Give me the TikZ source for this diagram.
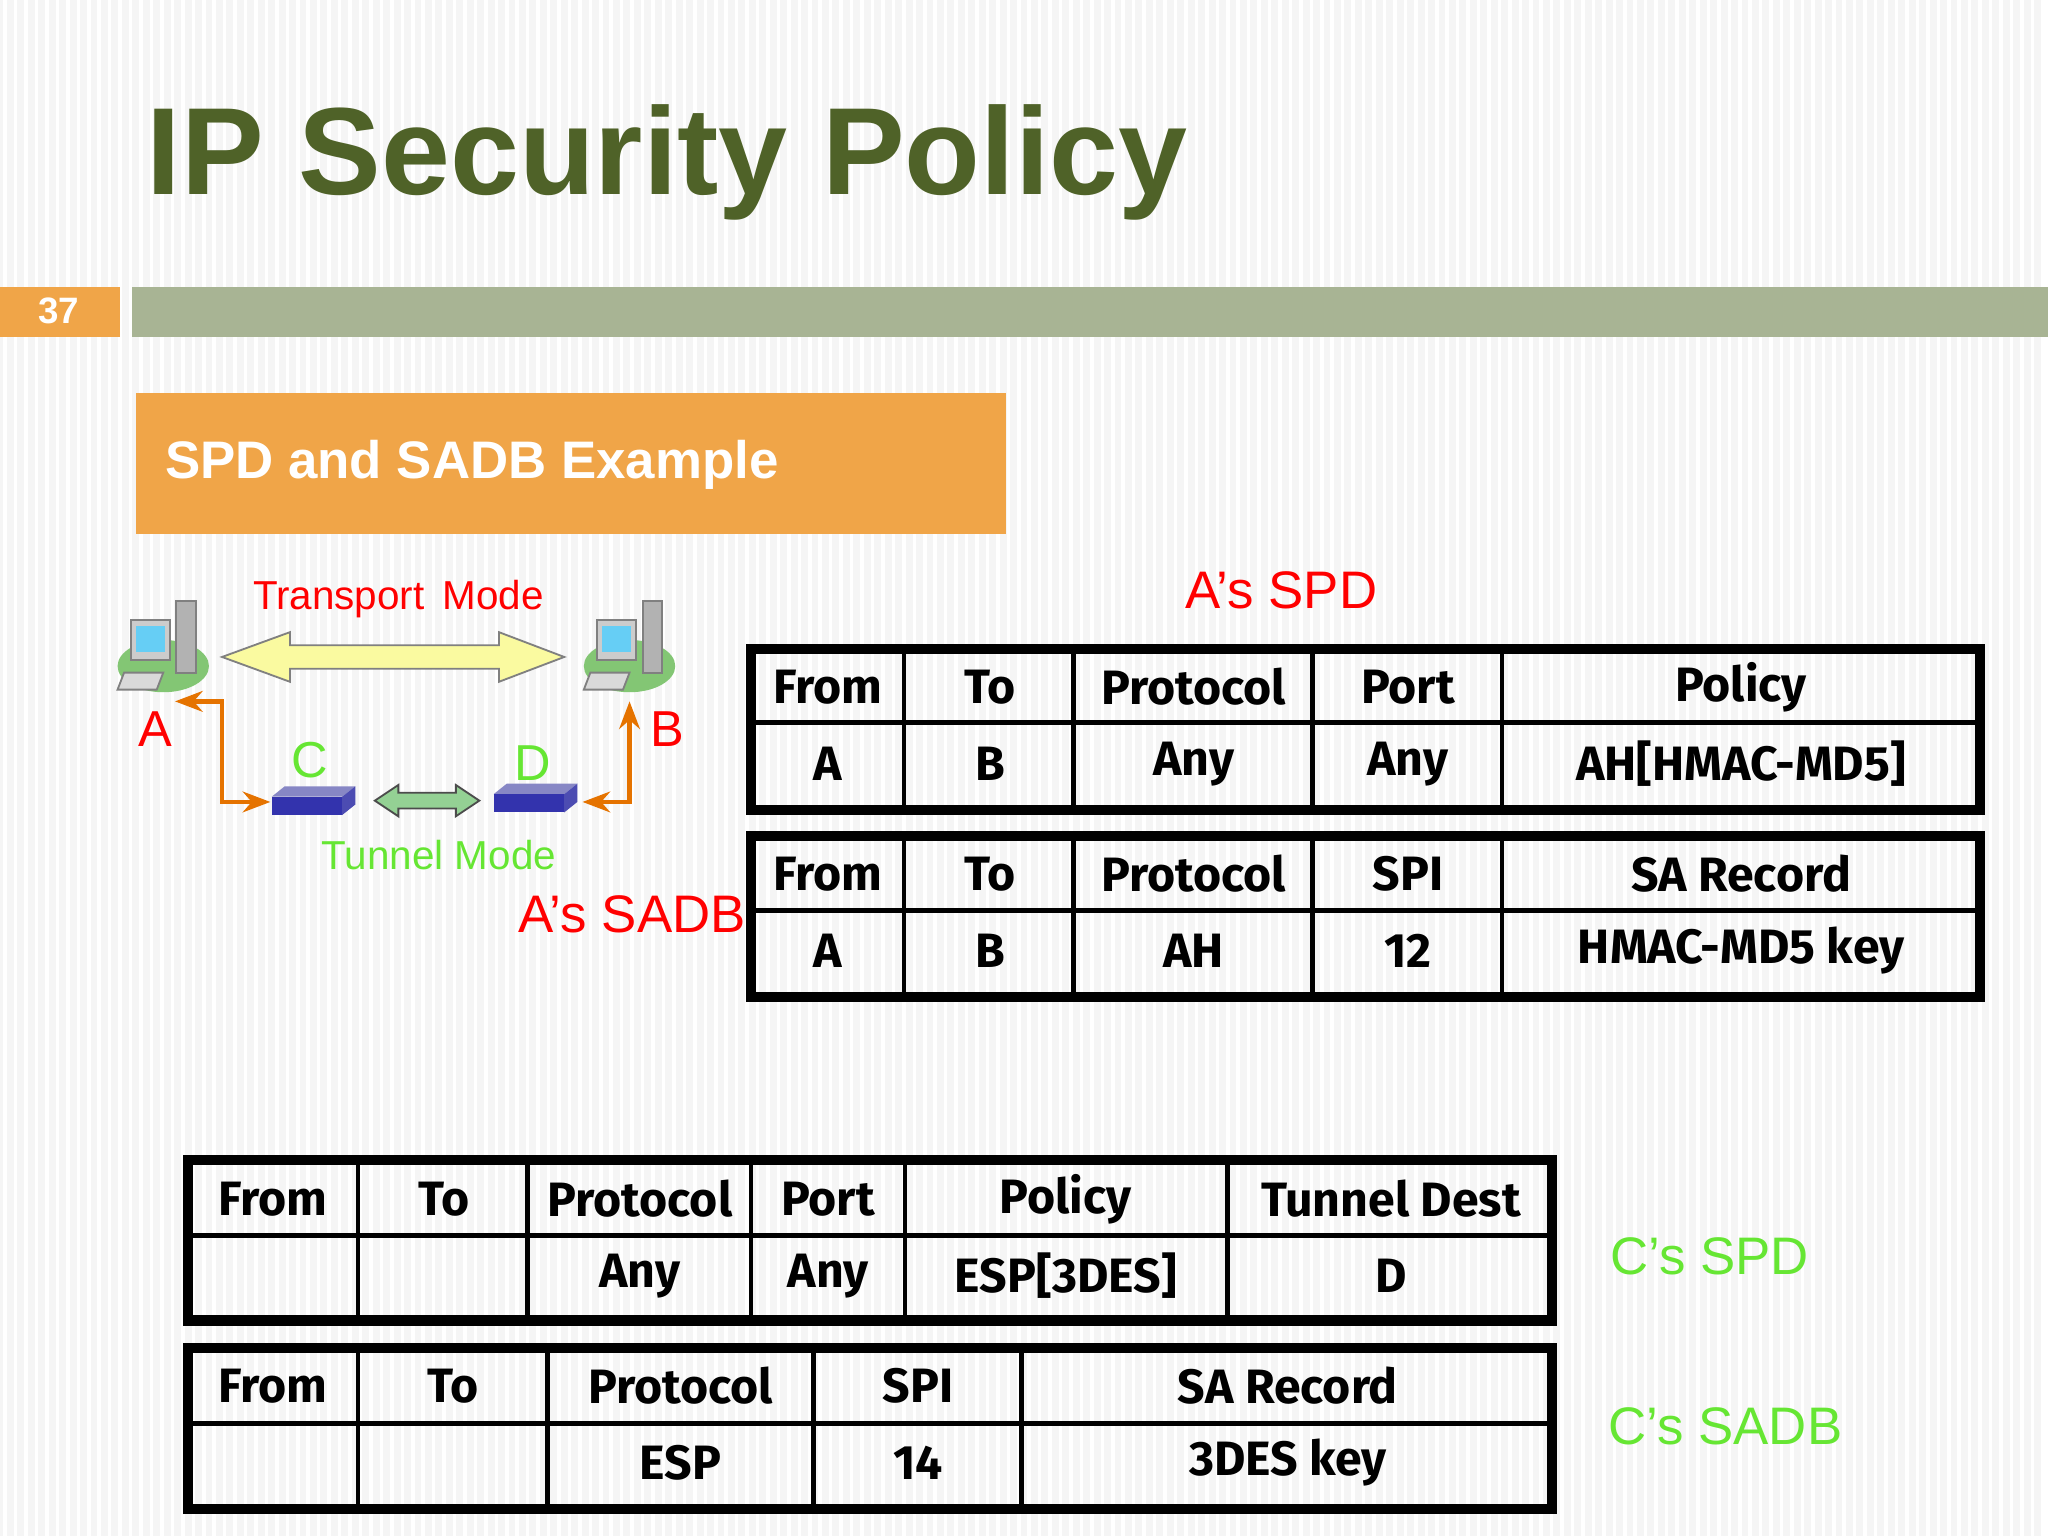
\documentclass[tikz,border=0pt]{standalone}
\usepackage{fontspec}
\setmainfont{DejaVu Sans}
\newfontfamily\titlefont{Liberation Sans}
\newfontfamily\cellfont{Fira Sans}
\usetikzlibrary{arrows.meta,positioning}
\definecolor{olive}{RGB}{79,98,40}
\definecolor{bar}{RGB}{168,180,148}
\definecolor{orng}{RGB}{240,165,72}
\definecolor{lgreen}{RGB}{102,230,51}
\definecolor{fatarrow}{RGB}{250,250,160}
\tikzset{
  cell/.style={font=\cellfont\bfseries\fontsize{10.5}{12}\selectfont},
  grid/.style={line width=1pt},
  frame/.style={line width=2.2pt},
  pclabel/.style={font=\titlefont\fontsize{11}{13}\selectfont,red},
  caption/.style={font=\titlefont\fontsize{11.5}{14}\selectfont},
  link/.style={orange!90!black,line width=1pt,-{Stealth[length=6pt]}},
}
% table: x0,x1,ytop,ymid,ybot, column list
\newcommand{\tabgrid}[6]{%
  \draw[frame] (#1,#3) rectangle (#2,#5);
  \draw[grid] (#1,#4) -- (#2,#4);
  \foreach \c in {#6} {\draw[grid] (\c,#3) -- (\c,#5);}
}
\newcommand{\pc}[2]{% computer icon
  \begin{scope}[shift={(#1)}]
    \fill[green!40!olive!60] (0,10) ellipse (35 and 20);
    \fill[gray!40,draw=gray] (-25,-25) rectangle (5,5);
    \fill[cyan!60] (-21,-21) rectangle (1,-1);
    \fill[gray!60,draw=gray] (10,-40) rectangle (25,15);
    \fill[gray!30,draw=gray] (-30,15) -- (0,15) -- (-5,28) -- (-35,28) -- cycle;
    \coordinate (#2) at (0,0);
  \end{scope}
}
\newcommand{\router}[2]{% router icon
  \begin{scope}[shift={(#1)}]
    \fill[blue!35!gray!70] (-32,-4) -- (22,-4) -- (32,-12) -- (-22,-12) -- cycle;
    \fill[blue!60!black!80] (-32,-4) rectangle (22,10);
    \fill[blue!40!gray] (22,-4) -- (32,-12) -- (32,2) -- (22,10) -- cycle;
    \coordinate (#2) at (0,0);
  \end{scope}
}
\begin{document}
\begin{tikzpicture}[x=0.01cm,y=-0.01cm]
\useasboundingbox (0,0) rectangle (1568,1176);
\fill[white] (0,0) rectangle (1568,1176);
\foreach \i in {0,8,...,1560} {\draw[gray!8,line width=1.5pt] (\i,0) -- (\i,1176);}

% title and bars
\node[anchor=west,font=\titlefont\bfseries\fontsize{27}{32}\selectfont,text=olive] (title) at (100,124) {IP Security Policy};
\fill[orng] (0,220) rectangle (92,258);
\node[font=\titlefont\bfseries\fontsize{8}{10}\selectfont,white] (num) at (45,238) {37};
\fill[bar] (101,220) rectangle (1568,258);
\fill[orng] (104,301) rectangle (770,409);
\node[anchor=west,font=\titlefont\bfseries\fontsize{11.5}{14}\selectfont,white] (sub) at (114,356) {SPD and SADB Example};

% network sketch
\pc{(125,500)}{pcA}
\pc{(482,500)}{pcB}
\router{(240,614)}{rC}
\router{(410,612)}{rD}
\draw[gray,fill=fatarrow] (170,503) -- (222,484) -- (222,494) -- (382,494) -- (382,484) -- (432,503)
  -- (382,522) -- (382,512) -- (222,512) -- (222,522) -- cycle;
\draw[black!70,fill=green!40!gray!60] (287,613) -- (305,601) -- (305,607) -- (349,607) -- (349,601) -- (367,613)
  -- (349,625) -- (349,619) -- (305,619) -- (305,625) -- cycle;
\draw[link,{Stealth[length=6pt]}-{Stealth[length=6pt]}] (134,537) -- (170,537) -- (170,614) -- (207,614);
\draw[link,{Stealth[length=6pt]}-{Stealth[length=6pt]}] (446,614) -- (482,614) -- (482,537);
\node[font=\titlefont\fontsize{8.8}{11}\selectfont,red] (tm) at (305,459) {Transport\, Mode};
\node[font=\titlefont\fontsize{8.8}{11}\selectfont,lgreen] (tun) at (336,655) {Tunnel Mode};
\node[pclabel] (lA) at (119,558) {A};
\node[pclabel] (lB) at (511,558) {B};
\node[pclabel,lgreen] (lC) at (237,582) {C};
\node[pclabel,lgreen] (lD) at (408,584) {D};

% captions
\node[caption,red] (aspd) at (981,452) {A’s SPD};
\node[caption,red] (asadb) at (484,700) {A’s SADB};
\node[caption,lgreen] (cspd) at (1309,962) {C’s SPD};
\node[caption,lgreen] (csadb) at (1321,1092) {C’s SADB};

% A's SPD
\tabgrid{575}{1516}{497}{553}{620}{692,822,1005,1150}
\foreach \x/\t [count=\n] in {634/From,758/To,914/Protocol,1078/Port,1333/Policy}
  \node[cell] (aspdh\n) at (\x,526) {\t};
\foreach \x/\t [count=\n] in {634/A,758/B,914/Any,1078/Any,1333/AH[HMAC-MD5]}
  \node[cell] (aspdr\n) at (\x,585) {\t};

% A's SADB
\tabgrid{575}{1516}{640}{697}{763}{692,822,1005,1150}
\foreach \x/\t [count=\n] in {634/From,758/To,914/Protocol,1078/SPI,1333/SA Record}
  \node[cell] (asadbh\n) at (\x,669) {\t};
\foreach \x/\t [count=\n] in {634/A,758/B,914/AH,1078/12,1333/HMAC-MD5 key}
  \node[cell] (asadbr\n) at (\x,728) {\t};

% C's SPD
\tabgrid{144}{1188}{888}{946}{1011}{274,404,575,693,940}
\foreach \x/\t [count=\n] in {209/From,340/To,490/Protocol,634/Port,816/Policy,1065/Tunnel Dest}
  \node[cell] (cspdh\n) at (\x,918) {\t};
\foreach \x/\t [count=\n] in {490/Any,634/Any,816/ESP[3DES],1065/D}
  \node[cell] (cspdr\n) at (\x,977) {\t};

% C's SADB
\tabgrid{144}{1188}{1032}{1090}{1155}{274,419,623,782}
\foreach \x/\t [count=\n] in {209/From,347/To,521/Protocol,703/SPI,986/SA Record}
  \node[cell] (csadbh\n) at (\x,1061) {\t};
\foreach \x/\t [count=\n] in {521/ESP,703/14,986/3DES key}
  \node[cell] (csadbr\n) at (\x,1120) {\t};
\end{tikzpicture}
\end{document}
